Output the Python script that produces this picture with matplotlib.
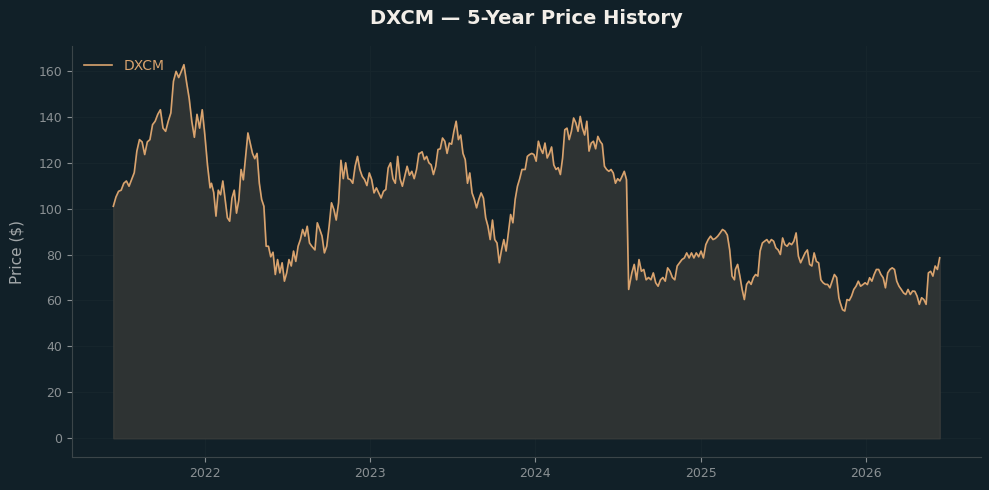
import numpy as np
import pandas as pd
import matplotlib
matplotlib.use("Agg")
import matplotlib.pyplot as plt

# colours
bg_color = "#112028"
line_color = "#d9a36e"
fill_color = "#2e3333"
grid_color = "#16252c"
spine_color = "#3b4549"
tick_color = "#8a9093"

ticker = "DXCM"

# price readings, one list per stretch of the chart, with its first and last date
seg_dates = [
    ("2021-06-12", "2022-01-12"),
    ("2022-01-15", "2022-08-25"),
    ("2022-09-01", "2023-04-19"),
    ("2023-04-21", "2023-12-03"),
    ("2023-12-10", "2024-07-26"),
    ("2024-08-02", "2025-03-17"),
    ("2025-03-19", "2025-11-03"),
    ("2025-11-06", "2026-06-14"),
]

prices_1 = [101, 105, 107.5, 108, 111, 112, 109.7, 112.6, 115.6, 125, 130, 129, 123.5, 129,
            130, 136.5, 138, 141, 143, 135, 133.6, 138, 141.6, 155.4, 159.7, 157, 159.7, 162.6,
            155, 148, 138, 131, 141, 135, 143, 132, 119, 109]
prices_2 = [111, 107, 96.7, 108, 106, 112, 104, 96, 94.5, 104.5, 108, 98, 103.6, 117, 112.5,
            122.7, 132.9, 128.5, 124, 121.7, 124, 111, 104, 101, 83.6, 83.6, 79, 81, 71.3, 77.8,
            72, 76.4, 68.4, 72, 77.8, 75, 81.5, 77, 83.6, 86.5, 90.9, 88, 92.3, 85, 83.6]
prices_3 = [82, 93.8, 91, 88, 80.7, 83.6, 92.3, 102.5, 99.6, 95, 102.5, 121, 113, 119.9, 113,
            112.6, 111, 118.4, 122.7, 117, 114, 112.6, 110, 115.5, 112.6, 106.8, 109, 106.8,
            104.6, 107.5, 108.3, 117.7, 119.9, 113, 111, 122.7, 113, 109.7, 114, 118.4, 114.5,
            116.2, 113, 117, 124]
prices_4 = [124, 124.7, 121.3, 122.7, 119.9, 119, 114.8, 118.4, 125.7, 126, 130.7, 129.3, 124,
            128.5, 128, 133.6, 138, 130, 132, 124, 121.3, 111, 115.5, 106.8, 104, 100.3, 104,
            106.8, 104.6, 96, 92.3, 86.5, 95, 86.5, 85, 76.4, 82, 86.5, 81.5, 89.4, 97.4, 93.8,
            104, 109.7, 113, 117]
prices_5 = [117, 122.7, 123.5, 124, 123.5, 120.6, 129.3, 126, 124, 128.5, 122, 124, 126.8, 119,
            117, 117.8, 114.8, 122, 134.3, 135, 130, 133.6, 139.4, 137.3, 133.6, 140.1, 135, 132,
            138, 125, 128.5, 129.3, 126, 131.4, 129.3, 128, 118.4, 117, 116.2, 117, 115.5, 111,
            113, 112, 114, 116.2, 112.6, 64.8]
prices_6 = [72, 75.7, 69, 77.8, 72.7, 73.5, 69, 70, 69, 72, 67.7, 66.2, 69, 70, 68.4, 74.2, 72.7,
            70, 69, 75, 76.4, 77.8, 78.5, 80.7, 78.5, 80.7, 78.5, 80.7, 79, 81.5, 78.5, 84.3,
            86.5, 88, 86.5, 87, 88, 89.4, 90.9, 90.2, 88.5, 82, 70.6, 69]
prices_7 = [73.5, 75.7, 70.6, 64.8, 60.4, 67, 68.4, 67, 69.9, 71.3, 70.6, 81.5, 85, 85.8, 86.5,
            85, 86.5, 85.8, 82.9, 82, 80, 87.2, 84.3, 83.6, 85, 84.3, 85.8, 89.4, 79.3, 76.4,
            78.5, 80.7, 82, 75.7, 75, 80.7, 77, 76.4, 69, 67.7, 67, 67, 65.5, 68.4, 71.3, 70, 61.2]
prices_8 = [59, 56, 55.4, 60.4, 60, 61.9, 64.8, 66.2, 68.4, 66.2, 66.9, 67.7, 66.9, 69.9, 68.4,
            71.3, 73.5, 73.5, 71.3, 69.9, 65.5, 72, 73.5, 74.2, 73.5, 68.4, 66.2, 64.8, 63.3,
            62.6, 64.8, 62.6, 64.1, 64, 61.9, 58.3, 61.2, 60.4, 58.3, 72, 72.7, 70.6, 75, 73.5,
            78.6]

segments = [prices_1, prices_2, prices_3, prices_4, prices_5, prices_6, prices_7, prices_8]


def build_series():
    parts = []
    for (start, end), vals in zip(seg_dates, segments):
        idx = pd.date_range(start, end, periods=len(vals))
        parts.append(pd.Series(vals, index=idx))
    return pd.concat(parts)


def create_graph(series):
    fig = plt.figure(figsize=(9.89, 4.9), dpi=100, facecolor=bg_color)
    ax = fig.add_axes([0.0728, 0.0673, 0.9191, 0.8388])
    ax.set_facecolor(bg_color)

    ax.fill_between(series.index, series.values, 0, color=fill_color, edgecolor="#3a3d3b",
                    linewidth=0.8, zorder=1)
    ax.plot(series.index, series.values, color=line_color, linewidth=1.2, label=ticker, zorder=2)

    ax.set_yticks(range(0, 161, 20))
    ax.grid(True, color=grid_color, linewidth=0.8)
    ax.set_axisbelow(True)

    for side in ["top", "right"]:
        ax.spines[side].set_visible(False)
    for side in ["left", "bottom"]:
        ax.spines[side].set_color(spine_color)

    ax.tick_params(colors=tick_color, labelsize=9)
    ax.set_ylabel("Price ($)", color="#a3a8aa", fontsize=11, labelpad=10)
    ax.set_title("DXCM — 5-Year Price History", color="#f2eee8", fontsize=14,
                 fontweight="bold", pad=16)

    leg = ax.legend(loc="upper left", frameon=False, fontsize=10)
    for text in leg.get_texts():
        text.set_color(line_color)

    fig.savefig("out.png", dpi=100, facecolor=bg_color)


if __name__ == "__main__":
    create_graph(build_series())
